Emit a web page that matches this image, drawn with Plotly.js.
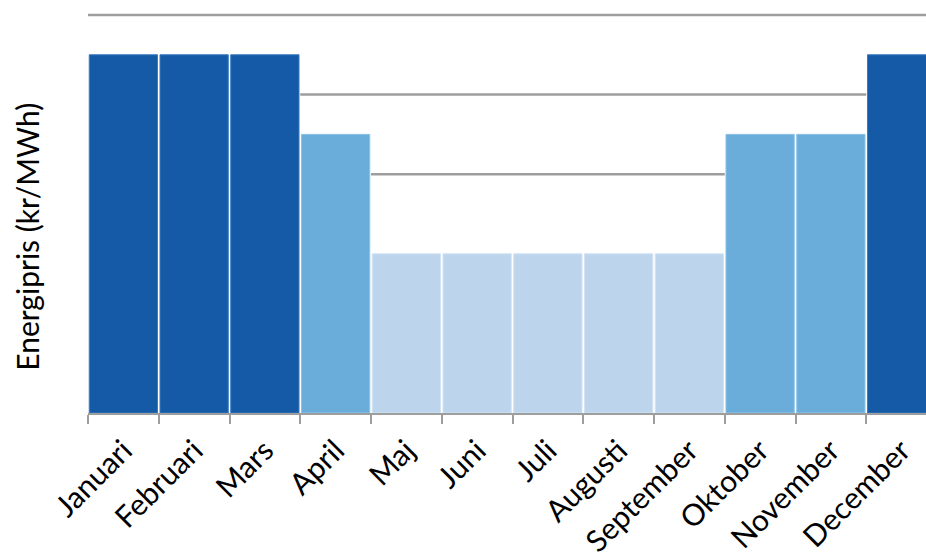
<!DOCTYPE html>
<html>
<head>
<meta charset="utf-8">
<script src="https://cdn.plot.ly/plotly-3.0.1.min.js"></script>
<style>
  html, body { margin: 0; padding: 0; overflow: hidden; background: #fff; }
  #chart { width: 950px; height: 553px; }
</style>
</head>
<body>
<div id="chart"></div>
<script>
// Monthly energy price, grouped into three price levels
const months = ["Januari", "Februari", "Mars", "April", "Maj", "Juni", "Juli",
                "Augusti", "September", "Oktober", "November", "December"];
const prices = [9, 9, 9, 7, 4, 4, 4, 4, 4, 7, 7, 9];
const levelColors = { 9: "#155aa6", 7: "#6aaddb", 4: "#bdd5ec" };
const edgeColors  = { 9: "#3c7bbf", 7: "#8cc2e6", 4: "#d3e3f3" };

// Reference levels, each spanning a range of month indices (bar edges at ±0.5)
const refLevels = [10, 8, 6];
const refStart  = [-0.5, 2.5, 3.5];
const refEnd    = [11.5, 10.5, 8.5];

const traces = [{
  type: "bar",
  x: months,
  y: prices,
  marker: {
    color: prices.map(v => levelColors[v]),
    line: { color: prices.map(v => edgeColors[v]), width: 1 }
  },
  hoverinfo: "x+y",
  showlegend: false
}];

refLevels.forEach((lvl, i) => {
  traces.push({
    type: "scatter",
    mode: "lines",
    x: [refStart[i], refEnd[i]],
    y: [lvl, lvl],
    xaxis: "x2",
    line: { color: "#9e9e9e", width: 2.5 },
    hoverinfo: "skip",
    showlegend: false
  });
});

const labelFont = { size: 30, family: "Lato, 'Open Sans', sans-serif", color: "#000" };

const layout = {
  width: 950,
  height: 553,
  margin: { l: 88, r: 13, t: 3, b: 140 },
  paper_bgcolor: "#ffffff",
  plot_bgcolor: "#ffffff",
  bargap: 0.035,
  font: { family: "Lato, 'Open Sans', sans-serif", color: "#000" },
  xaxis: {
    type: "category",
    tickson: "boundaries",
    ticks: "outside",
    ticklen: 9,
    tickwidth: 2,
    tickcolor: "#9e9e9e",
    ticklabelstandoff: 6,
    showline: true,
    linecolor: "#9e9e9e",
    linewidth: 2,
    showgrid: false,
    tickangle: -45,
    tickfont: labelFont,
    automargin: false,
    fixedrange: true
  },
  xaxis2: {
    overlaying: "x",
    range: [-0.5, 11.5],
    visible: false,
    fixedrange: true
  },
  yaxis: {
    range: [0, 10.3],
    showticklabels: false,
    ticks: "",
    showgrid: false,
    zeroline: false,
    showline: false,
    fixedrange: true
  },
  annotations: [{
    text: "Energipris (kr/MWh)",
    textangle: -90,
    xref: "paper", yref: "paper",
    x: 0, y: 0.43,
    xanchor: "center", yanchor: "middle",
    xshift: -61,
    showarrow: false,
    font: labelFont
  }]
};

Plotly.newPlot("chart", traces, layout, { displayModeBar: false, staticPlot: true });
</script>
</body>
</html>
